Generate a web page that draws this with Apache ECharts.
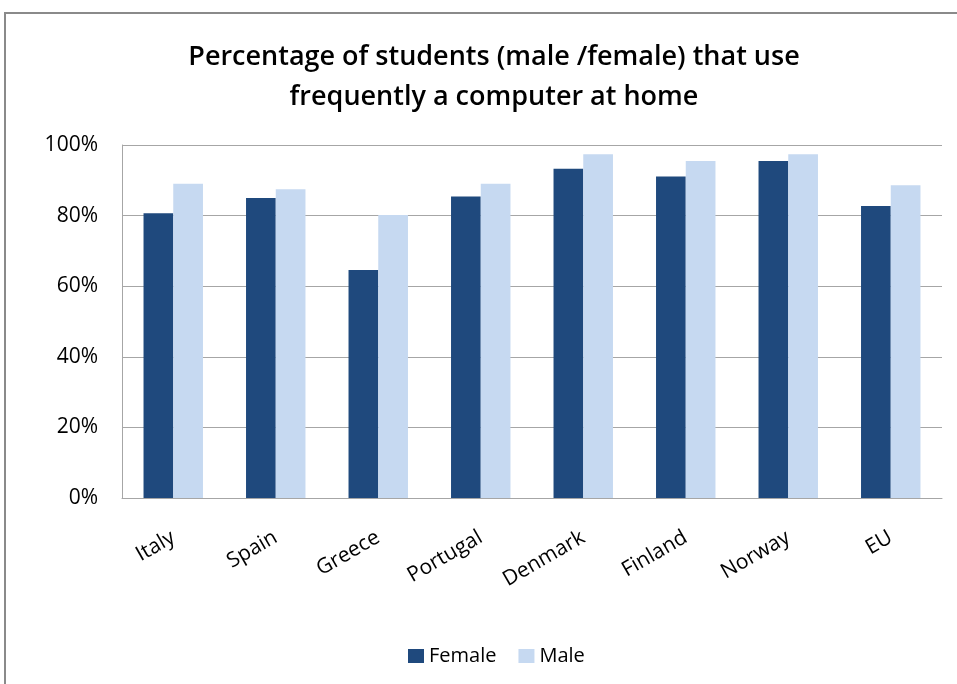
<!DOCTYPE html>
<html lang="en">
<head>
    <meta charset="UTF-8">
    <title>Students using a computer at home</title>
    <style>
        html, body { margin: 0; padding: 0; background: #fff; }
        #main { width: 957px; height: 684px; }
    </style>
</head>
<body>
<div id="main"></div>
<script src="https://cdn.jsdelivr.net/npm/echarts@6/dist/echarts.min.js"></script>
<script>
    var countries = ['Italy', 'Spain', 'Greece', 'Portugal', 'Denmark', 'Finland', 'Norway', 'EU'];
    // percentages
    var female = [80.7, 85.0, 64.6, 85.4, 93.3, 91.1, 95.5, 82.7];
    var male = [89.0, 87.5, 80.2, 89.0, 97.4, 95.5, 97.4, 88.6];
    var yTicks = [0, 20, 40, 60, 80, 100];

    var font = "'Open Sans', 'Liberation Sans', sans-serif";
    var gridColor = '#a6a6a6';

    var myChart = echarts.init(document.getElementById('main'));

    var option = {
        backgroundColor: '#fff',
        textStyle: { fontFamily: font },
        title: {
            text: 'Percentage of students (male /female) that use\nfrequently a computer at home',
            left: 489,
            textAlign: 'center',
            top: 32,
            textStyle: {
                fontFamily: font,
                fontSize: 27,
                fontWeight: 600,
                color: '#000',
                lineHeight: 40
            }
        },
        // outer frame of the chart area
        graphic: [{
            type: 'rect',
            shape: { x: 5, y: 13, width: 970, height: 700 },
            style: { fill: null, stroke: '#8a8a8a', lineWidth: 2 },
            silent: true
        }],
        legend: {
            data: ['Female', 'Male'],
            left: 403,
            top: 641,
            itemWidth: 16,
            itemHeight: 14,
            itemGap: 22,
            icon: 'rect',
            textStyle: { fontFamily: font, fontSize: 20, color: '#000' }
        },
        grid: {
            left: 122,
            right: 15,
            top: 145,
            bottom: 186
        },
        xAxis: {
            type: 'category',
            data: countries,
            axisLine: { show: true, lineStyle: { color: gridColor, width: 1 } },
            axisTick: { show: false },
            axisLabel: {
                rotate: 30,
                margin: 38,
                fontFamily: font,
                fontSize: 21,
                color: '#000'
            }
        },
        yAxis: {
            type: 'value',
            min: yTicks[0],
            max: yTicks[yTicks.length - 1],
            interval: yTicks[1] - yTicks[0],
            axisLine: { show: true, lineStyle: { color: gridColor, width: 1 } },
            axisTick: { show: false },
            splitLine: { lineStyle: { color: gridColor, width: 1 } },
            axisLabel: {
                formatter: '{value}%',
                margin: 24,
                fontFamily: font,
                fontSize: 21,
                color: '#000'
            }
        },
        series: [
            {
                name: 'Female',
                type: 'bar',
                data: female,
                barGap: '0%',
                barCategoryGap: '42%',
                itemStyle: { color: '#1f497d' }
            },
            {
                name: 'Male',
                type: 'bar',
                data: male,
                barGap: '0%',
                barCategoryGap: '42%',
                itemStyle: { color: '#c6d9f1' }
            }
        ]
    };
    myChart.setOption(option);
</script>
</body>
</html>
